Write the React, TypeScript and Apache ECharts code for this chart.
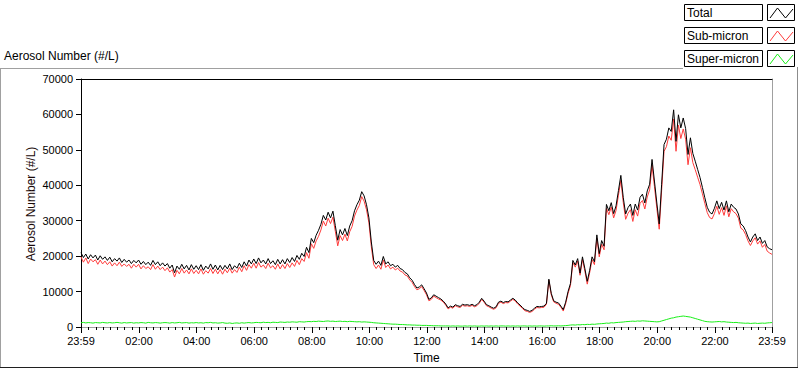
import React, { useEffect, useRef } from 'react';
import * as echarts from 'echarts';

// Sample times: minutes after 00:00, first sample at 23:59 of the previous day (-1), every 5 minutes.
const START_MIN = -1;
const STEP_MIN = 5;

const totalValues = [
  21000,19600,20600,19200,20400,19500,20300,18900,20100,19100,19800,18800,
  19700,18400,19300,18600,19500,18200,19100,18300,18900,17900,18800,18100,
  18900,17700,18500,17600,18300,17400,18800,17600,18400,17300,18100,17200,
  17900,16600,17500,15300,17200,16300,17700,16400,17400,16100,17600,16300,
  17300,16200,17600,16000,17200,16400,17800,16300,17500,16100,17400,16200,
  17400,16400,17800,16200,17300,16600,18000,16800,18400,17200,18900,17800,
  19200,17900,19500,18100,18900,17800,19300,17900,18700,17600,19100,17800,
  19000,17800,19300,18200,19600,18500,20200,19100,20800,19900,22500,21000,
  25000,23800,25900,27300,29000,31500,30200,32400,30800,32700,28600,24500,
  27500,26000,27800,25800,28500,30000,32800,34500,35800,38200,37000,34500,
  30800,24000,18800,17700,18600,17400,19900,17800,18400,17300,17700,16900,
  17400,16500,16200,15400,15000,13900,13200,12000,11000,11300,11900,10800,
  9600,7800,8200,9100,8700,8300,7900,7300,6500,5400,5900,5600,
  6300,6000,5800,6400,6200,6300,6100,6400,6000,6300,7000,8100,
  7300,6300,6000,5600,5300,5700,7000,7300,6900,7200,7100,7600,
  8100,7600,6800,6200,5500,4900,4700,4400,4700,5300,5800,5700,
  5800,5900,6700,13500,9500,7400,7000,6800,5900,4900,7000,10000,
  12300,18800,17500,19300,15200,19800,16500,12900,16000,19800,18400,26000,
  20700,24400,22800,34600,32800,35100,32000,34200,38500,42800,36600,31900,
  33700,34700,31500,34700,33000,36600,37500,35000,38400,40300,47300,41200,
  35000,29100,40300,51500,53000,56200,55200,61300,52400,59900,56200,59000,
  56000,48700,53400,49000,46800,44500,42200,39400,36500,33800,32400,31900,
  33500,35600,33400,35200,33000,35600,32500,34700,33800,33300,31900,29100,
  28500,27200,25400,24000,25400,26300,24400,25400,23600,24400,22600,22100,
  21800,
];

const subMicronValues = [
  19800,18300,19500,17900,19200,18400,19000,17700,18900,17800,18600,17600,
  18400,17200,18100,17300,18300,17100,17800,17100,17700,16600,17700,16900,
  17700,16400,17300,16500,17000,16200,17600,16300,17200,16200,16900,15900,
  16700,15500,16200,14100,16000,15000,16500,15200,16100,15000,16400,15100,
  16000,15000,16400,14900,15900,15200,16500,15100,16300,15000,16200,14900,
  16300,15300,16600,15200,16200,15400,16900,15600,17300,16000,17600,16600,
  18000,16600,18200,16900,17500,16500,18000,16700,17300,16300,17800,16400,
  17600,16500,17900,16800,18100,17100,18800,17600,19300,18500,21000,19400,
  23500,22200,24300,25600,27400,29900,28500,30700,29200,31000,27000,22900,
  25800,24400,26200,24300,26900,28400,31300,33000,34300,36800,35500,33100,
  29400,22700,17600,16500,17500,16300,18900,16800,17500,16400,16900,16100,
  16600,15800,15500,14700,14400,13300,12600,11400,10500,10800,11400,10300,
  9100,7400,7800,8700,8300,7900,7600,7000,6200,5100,5600,5300,
  6000,5700,5500,6100,5900,6000,5800,6100,5700,6000,6700,7800,
  7000,6000,5700,5300,5000,5400,6700,7000,6600,6900,6800,7300,
  7800,7300,6500,5900,5200,4600,4400,4100,4400,5000,5500,5400,
  5500,5600,6400,13200,9100,7100,6700,6400,5600,4500,6600,9500,
  11700,18200,16900,18600,14600,19100,15800,12100,15300,19000,17600,25100,
  19800,23400,21800,33500,31700,33900,30800,32900,37200,41400,35200,30400,
  32100,33100,29800,33100,31300,34900,35700,33300,36700,38700,45700,39700,
  33500,27600,38600,49600,50900,53900,52700,58700,49600,57000,53200,55900,
  53000,45800,50600,46400,44400,42300,40200,37600,34900,32300,30900,30500,
  32000,34100,31800,33700,31500,34200,31100,33400,32500,32000,30700,27900,
  27400,26100,24300,23000,24300,25200,23400,24300,22500,23300,21400,20900,
  20500,
];

const superMicronValues = [
  1200,1300,1150,1250,1200,1100,1250,1200,1150,1300,1200,1150,
  1250,1150,1200,1300,1200,1100,1250,1150,1200,1250,1100,1200,
  1150,1250,1200,1100,1300,1200,1150,1250,1200,1100,1200,1250,
  1200,1100,1250,1150,1200,1300,1150,1200,1250,1100,1200,1150,
  1250,1150,1200,1100,1250,1200,1300,1150,1200,1100,1150,1250,
  1100,1050,1150,1000,1100,1150,1050,1200,1100,1200,1250,1150,
  1200,1300,1250,1200,1350,1250,1300,1200,1350,1300,1250,1400,
  1350,1300,1400,1350,1450,1400,1350,1500,1450,1400,1500,1550,
  1500,1600,1550,1650,1600,1550,1650,1700,1600,1650,1550,1600,
  1650,1550,1600,1500,1600,1550,1500,1450,1500,1400,1450,1400,
  1350,1300,1200,1150,1100,1050,1000,950,900,850,800,800,
  750,700,700,650,600,600,550,550,500,500,450,450,
  450,400,400,350,350,350,300,300,300,300,250,300,
  250,300,250,250,300,250,300,250,300,250,250,300,
  250,300,250,300,250,300,250,300,300,250,300,250,
  300,250,300,250,300,300,250,300,250,300,250,300,
  300,250,300,300,350,300,300,350,300,350,400,450,
  550,600,550,650,600,700,650,750,700,800,750,850,
  900,950,1000,1100,1050,1200,1150,1250,1300,1350,1400,1500,
  1550,1600,1650,1600,1700,1650,1750,1700,1650,1600,1550,1500,
  1450,1500,1700,1900,2100,2300,2500,2600,2800,2900,3000,3100,
  3000,2900,2800,2600,2400,2200,2000,1800,1600,1500,1450,1400,
  1450,1500,1550,1450,1500,1400,1350,1300,1250,1300,1200,1150,
  1100,1050,1100,1000,1050,1100,1000,1050,1100,1050,1150,1200,
  1250,
];

const xTickValues = [-1, 120, 240, 360, 480, 600, 720, 840, 960, 1080, 1200, 1320, 1439];
const xTickLabels = ['23:59', '02:00', '04:00', '06:00', '08:00', '10:00', '12:00', '14:00', '16:00', '18:00', '20:00', '22:00', '23:59'];
const legendNames = ['Total', 'Sub-micron', 'Super-micron'];
const seriesColors = ['#000000', '#ff3c3c', '#19ef19'];
const yAxisTitle = 'Aerosol Number (#/L)';

const Y_MIN = 0;
const Y_MAX = 70000;
const Y_INTERVAL = 10000;
const X_MIN = -1;
const X_MAX = 1439;

const FONT = '"Liberation Sans", Arial, sans-serif';

function toPairs(vals: number[]) {
  return vals.map((v, i) => [START_MIN + STEP_MIN * i, v]);
}

function minorTickValues() {
  const out: number[] = [];
  for (let m = 15; m < 1439; m += 15) {
    if (m % 120 !== 0) out.push(m);
  }
  return out;
}

export default function App() {
  const ref = useRef<HTMLDivElement>(null);

  useEffect(() => {
    if (!ref.current) return;
    const chart = echarts.init(ref.current, null, { renderer: 'svg' });

    const legendGraphics: any[] = [];
    const rowTops = [4, 27, 50];
    legendNames.forEach((name, i) => {
      const top = rowTops[i];
      legendGraphics.push({
        type: 'rect',
        shape: { x: 684.5, y: top + 0.5, width: 78, height: 16 },
        style: { fill: '#ffffff', stroke: '#000000', lineWidth: 1 },
        z: 10,
      });
      legendGraphics.push({
        type: 'text',
        x: 687,
        y: top + 9,
        style: {
          text: name,
          fill: '#000000',
          font: `12px ${FONT}`,
          verticalAlign: 'middle',
          align: 'left',
        },
        z: 11,
      });
      legendGraphics.push({
        type: 'rect',
        shape: { x: 767.5, y: top + 0.5, width: 27, height: 16 },
        style: { fill: '#ffffff', stroke: '#000000', lineWidth: 1 },
        z: 10,
      });
      legendGraphics.push({
        type: 'polyline',
        shape: {
          points: [
            [770, top + 14],
            [777.5, top + 4],
            [785.5, top + 14],
            [793, top + 5],
          ],
        },
        style: { stroke: seriesColors[i], lineWidth: 1, fill: 'none' },
        z: 11,
      });
    });

    const frame = [
      { type: 'line', shape: { x1: 0, y1: 68.5, x2: 683, y2: 68.5 }, style: { stroke: '#a0a0a0', lineWidth: 1 } },
      { type: 'line', shape: { x1: 0.5, y1: 68.5, x2: 0.5, y2: 367.5 }, style: { stroke: '#a0a0a0', lineWidth: 1 } },
      { type: 'line', shape: { x1: 797.5, y1: 67, x2: 797.5, y2: 368 }, style: { stroke: '#8c8c8c', lineWidth: 1 } },
      { type: 'line', shape: { x1: 0, y1: 367.5, x2: 798, y2: 367.5 }, style: { stroke: '#202020', lineWidth: 1 } },
    ];

    const yTitleGraphic = {
      type: 'text',
      x: 31,
      y: 204,
      rotation: Math.PI / 2,
      style: {
        text: yAxisTitle,
        fill: '#1a0a0a',
        font: `12px ${FONT}`,
        align: 'center',
        verticalAlign: 'middle',
      },
    };

    const option: any = {
      animation: false,
      backgroundColor: '#ffffff',
      textStyle: { fontFamily: FONT },
      title: {
        text: yAxisTitle,
        left: 4,
        top: 50,
        padding: 0,
        textStyle: { fontSize: 12, fontWeight: 'normal', color: '#000000', fontFamily: FONT },
      },
      grid: { left: 81, right: 28, top: 79, bottom: 40, containLabel: false },
      xAxis: [
        {
          type: 'value',
          min: X_MIN,
          max: X_MAX,
          position: 'bottom',
          name: 'Time',
          nameLocation: 'middle',
          nameGap: 25,
          nameTextStyle: { fontSize: 12, color: '#000000', fontFamily: FONT },
          axisLine: { show: true, onZero: false, lineStyle: { color: '#a0a0a0', width: 1 } },
          axisTick: { show: true, customValues: xTickValues, length: 6, lineStyle: { color: '#000000' } },
          axisLabel: {
            show: true,
            customValues: xTickValues,
            margin: 8,
            fontSize: 11,
            color: '#000000',
            fontFamily: FONT,
            formatter: (v: number) => {
              const idx = xTickValues.indexOf(Math.round(v));
              return idx >= 0 ? xTickLabels[idx] : '';
            },
          },
          splitLine: { show: false },
        },
        {
          type: 'value',
          min: X_MIN,
          max: X_MAX,
          position: 'bottom',
          axisLine: { show: false, onZero: false },
          axisTick: { show: true, customValues: minorTickValues(), length: 3, lineStyle: { color: '#000000' } },
          axisLabel: { show: false },
          splitLine: { show: false },
        },
        {
          type: 'value',
          min: X_MIN,
          max: X_MAX,
          position: 'top',
          axisLine: { show: true, onZero: false, lineStyle: { color: '#000000', width: 1 } },
          axisTick: { show: false },
          axisLabel: { show: false },
          splitLine: { show: false },
        },
      ],
      yAxis: [
        {
          type: 'value',
          min: Y_MIN,
          max: Y_MAX,
          interval: Y_INTERVAL,
          position: 'left',
          axisLine: { show: true, onZero: false, lineStyle: { color: '#000000', width: 1 } },
          axisTick: { show: true, length: 5, lineStyle: { color: '#000000' } },
          axisLabel: {
            margin: 8,
            fontSize: 11,
            color: '#000000',
            fontFamily: FONT,
            formatter: (v: number) => String(Math.round(v)),
          },
          splitLine: { show: false },
        },
        {
          type: 'value',
          min: Y_MIN,
          max: Y_MAX,
          position: 'right',
          axisLine: { show: true, onZero: false, lineStyle: { color: '#a0a0a0', width: 1 } },
          axisTick: { show: false },
          axisLabel: { show: false },
          splitLine: { show: false },
        },
      ],
      series: [
        {
          name: legendNames[2],
          type: 'line',
          data: toPairs(superMicronValues),
          showSymbol: false,
          symbol: 'none',
          lineStyle: { color: seriesColors[2], width: 1 },
          xAxisIndex: 0,
          yAxisIndex: 0,
        },
        {
          name: legendNames[1],
          type: 'line',
          data: toPairs(subMicronValues),
          showSymbol: false,
          symbol: 'none',
          lineStyle: { color: seriesColors[1], width: 1 },
          xAxisIndex: 0,
          yAxisIndex: 0,
        },
        {
          name: legendNames[0],
          type: 'line',
          data: toPairs(totalValues),
          showSymbol: false,
          symbol: 'none',
          lineStyle: { color: seriesColors[0], width: 1 },
          xAxisIndex: 0,
          yAxisIndex: 0,
        },
      ],
      graphic: [...frame, yTitleGraphic, ...legendGraphics],
    };

    chart.setOption(option);
    return () => {
      chart.dispose();
    };
  }, []);

  return (
    <div
      ref={ref}
      style={{ position: 'absolute', left: 0, top: 0, width: 800, height: 369, background: '#ffffff' }}
    />
  );
}
